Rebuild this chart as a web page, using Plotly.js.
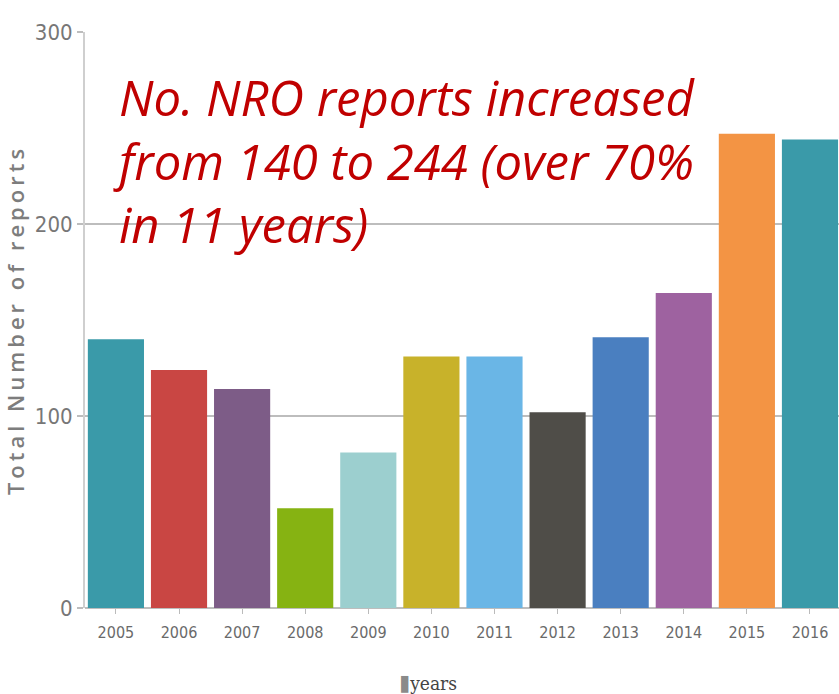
<!DOCTYPE html>
<html>
<head>
<meta charset="utf-8">
<script src="https://cdn.plot.ly/plotly-3.0.1.min.js"></script>
<style>
html,body{margin:0;padding:0;background:#fff;}
#chart{width:839px;height:694px;}
.xtick text, .ytick text { font-stretch: condensed; }
.ytitle { letter-spacing: 4px; }
.legendnote { font-stretch: condensed; }
</style>
</head>
<body>
<div id="chart"></div>
<script>
const years = ["2005","2006","2007","2008","2009","2010","2011","2012","2013","2014","2015","2016"];
const reports = [140, 124, 114, 52, 81, 131, 131, 102, 141, 164, 247, 244];
const barColors = ["#3a9aa9","#c94643","#7d5c87","#86b312","#9ccfcf","#c8b22a","#6ab6e6","#4f4d48","#4a7fc0","#9e62a0","#f39444","#3a9aa9"];
const yTicks = [0, 100, 200, 300];
const noteLines = ["No. NRO reports increased", "from 140 to 244 (over 70%", "in 11 years)"];
const legendLabel = "years";
const yTitle = "Total Number of reports";

const cond = "DejaVu Sans, sans-serif";

const trace = {
  type: "bar",
  x: years,
  y: reports,
  marker: {color: barColors, line: {width: 0}},
  showlegend: false,
  hoverinfo: "x+y"
};

const layout = {
  width: 839, height: 694,
  margin: {l: 85, r: 0, t: 32, b: 86},
  paper_bgcolor: "#fff", plot_bgcolor: "#fff",
  bargap: 0.11,
  xaxis: {
    type: "category",
    range: [-0.49, 11.46],
    showgrid: false,
    showline: false,
    zeroline: false,
    ticks: "outside", ticklen: 5, tickcolor: "#bbb", tickwidth: 1,
    tickfont: {family: cond, size: 16, color: "#6a6a6a"},
    ticklabelstandoff: 5
  },
  yaxis: {
    range: [0, 300],
    tickvals: yTicks,
    ticktext: yTicks.map(String),
    showgrid: true, gridcolor: "#bdbdbd", gridwidth: 2,
    zeroline: true, zerolinecolor: "#bdbdbd", zerolinewidth: 2,
    showline: true, linecolor: "#cfcfcf", linewidth: 2,
    ticks: "outside", ticklen: 6, tickcolor: "#bdbdbd", tickwidth: 2,
    tickfont: {family: cond, size: 22, color: "#777"},
    title: {text: yTitle, font: {family: "Open Sans, DejaVu Sans, sans-serif", size: 22, color: "#7d7d7d", weight: 600}, standoff: 6}
  },
  annotations: [
    {
      xref: "paper", yref: "paper", x: 0.035, y: 0.948, xanchor: "left", yanchor: "top",
      align: "left", showarrow: false,
      text: noteLines.map(s => "<i>" + s + "</i>").join("<br>"),
      font: {family: "Open Sans, Noto Sans, sans-serif", size: 49, color: "#c00000"}
    },
    {
      xref: "paper", yref: "paper", x: 0.455, y: -0.13, xanchor: "center", yanchor: "middle",
      showarrow: false,
      text: "<span style='color:#8a8a8a;font-size:22px'>▮</span>" + legendLabel,
      font: {family: "DejaVu Serif, Liberation Serif, serif", size: 19, color: "#444"}
    }
  ]
};

Plotly.newPlot("chart", [trace], layout, {displayModeBar: false, staticPlot: true}).then(() => {
  document.querySelectorAll(".annotation-text").forEach((t, i) => { if (i === 1) t.classList.add("legendnote"); });
});
</script>
</body>
</html>
